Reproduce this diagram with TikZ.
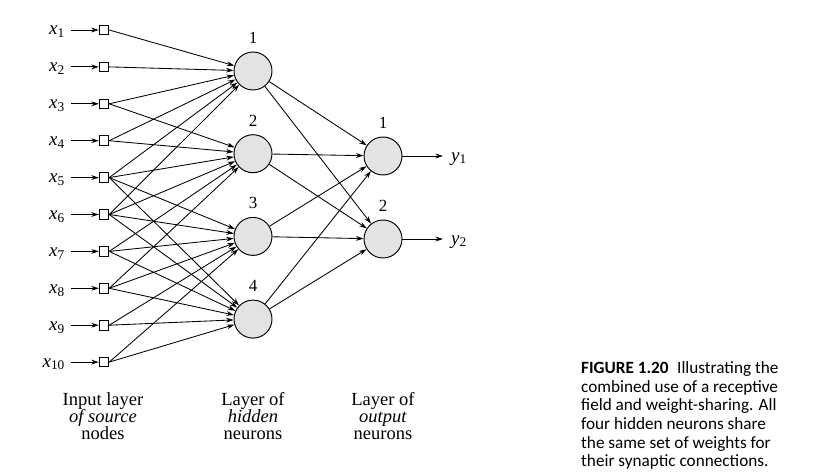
\documentclass[tikz,border=0pt]{standalone}
\usepackage{fontspec}
\setmainfont{Liberation Serif}
\newfontfamily\capfont{Carlito}
\usetikzlibrary{arrows.meta}
\begin{document}
\begin{tikzpicture}[x=1pt,y=-1pt,
  srcbox/.style={draw, line width=0.9pt, minimum size=9.5pt, inner sep=0pt, fill=white},
  neuron/.style={circle, draw, line width=0.95pt, minimum size=38pt, inner sep=0pt, fill=black!11},
  conn/.style={line width=0.85pt, -{Stealth[length=7.5pt,width=4.8pt]}},
  inlbl/.style={font=\fontsize{19}{19}\selectfont, inner sep=0pt},
  numlbl/.style={font=\fontsize{17}{17}\selectfont, inner sep=0pt},
  coltext/.style={font=\fontsize{18.5}{17.3}\selectfont, align=center, inner sep=0pt, anchor=north},
  captext/.style={font=\capfont\fontsize{17.2}{18.6}\selectfont, align=left, inner sep=0pt, anchor=north west}
]
\useasboundingbox (0,0) rectangle (829,473);
% input nodes
\foreach \i in {1,...,10}{
  \pgfmathsetmacro{\yy}{30+(\i-1)*36.9}
  \node[srcbox] (s\i) at (104,\yy) {};
  \coordinate (a\i) at (71,\yy);
  \node[inlbl, anchor=base east] (l\i) at (65,\yy+5) {\textit{x}\textsubscript{\i}};
  \draw[conn] (a\i) -- (s\i);
}
% hidden neurons
\foreach \j in {1,...,4}{
  \pgfmathsetmacro{\yy}{71+(\j-1)*82.7}
  \node[neuron] (h\j) at (253,\yy) {};
  \node[numlbl] (hn\j) at (253,\yy-33) {\j};
}
% output neurons
\node[neuron] (o1) at (383,156) {};
\node[neuron] (o2) at (383,239) {};
\node[numlbl] (on1) at (383,123) {1};
\node[numlbl] (on2) at (383,206) {2};
% input -> hidden (receptive fields)
\foreach \i in {1,...,6}{\draw[conn] (s\i.east) -- (h1);}
\foreach \i in {3,...,8}{\draw[conn] (s\i.east) -- (h2);}
\foreach \i in {5,...,10}{\draw[conn] (s\i.east) -- (h3);}
\foreach \i in {5,...,10}{\draw[conn] (s\i.east) -- (h4);}
% hidden -> output
\foreach \j in {1,...,4}{
  \draw[conn] (h\j) -- (o1);
  \draw[conn] (h\j) -- (o2);
}
% outputs
\coordinate (e1) at (443,156);
\coordinate (e2) at (443,239);
\draw[conn] (o1) -- (e1);
\draw[conn] (o2) -- (e2);
\node[inlbl, anchor=base west] (y1) at (451,161) {\textit{y}\textsubscript{1}};
\node[inlbl, anchor=base west] (y2) at (451,244) {\textit{y}\textsubscript{2}};
% column texts
\node[coltext] (t1) at (103,392) {Input layer\\\textit{of source}\\nodes};
\node[coltext] (t2) at (253,392) {Layer of\\\textit{hidden}\\neurons};
\node[coltext] (t3) at (383,392) {Layer of\\\textit{output}\\neurons};
% caption
\node[captext] (cap) at (581,361.5) {\textbf{FIGURE 1.20}\hspace{0.5em}Illustrating the\\combined use of a receptive\\field and weight-sharing. All\\four hidden neurons share\\the same set of weights for\\their synaptic connections.};
\end{tikzpicture}
\end{document}
